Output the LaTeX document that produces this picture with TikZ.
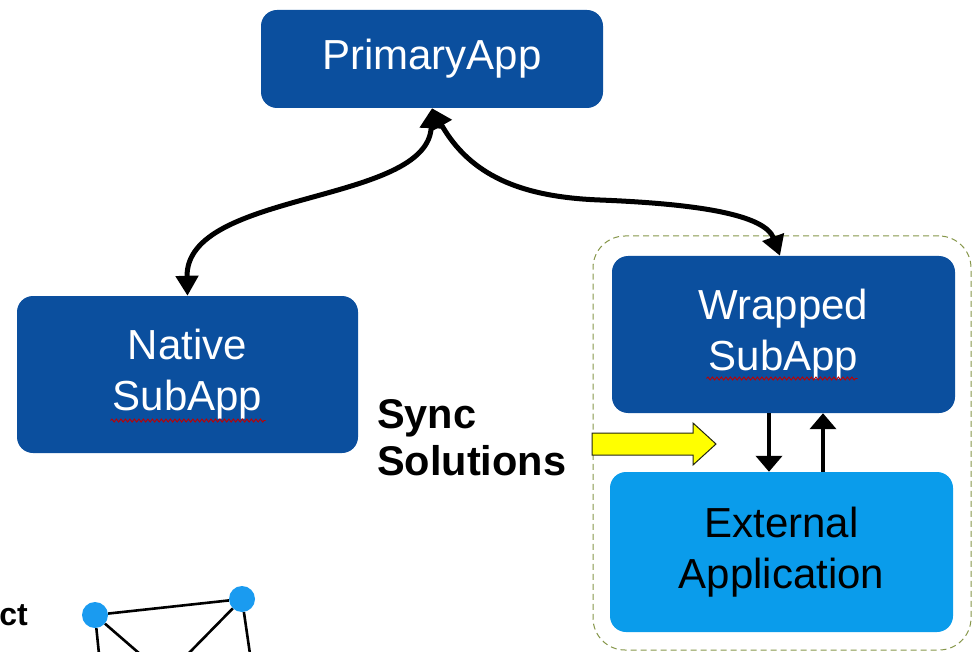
\documentclass[tikz,border=0pt]{standalone}
\usepackage{fontspec}
\setmainfont{Liberation Sans}
\usetikzlibrary{arrows.meta,decorations.pathmorphing}

\definecolor{appblue}{HTML}{0B4F9E}
\definecolor{extblue}{HTML}{0A9CEB}
\definecolor{olivedash}{HTML}{86964A}
\definecolor{syncyellow}{HTML}{FFFF00}
\definecolor{graphdot}{HTML}{1A9BF0}

\tikzset{
  appbox/.style={draw=none, fill=appblue, rounded corners=16pt, text=white,
    align=center, inner sep=0pt,
    font=\fontsize{42}{51}\selectfont},
  extbox/.style={appbox, fill=extblue, text=black},
  bigarrow/.style={line width=5pt,
    {Triangle[length=20pt,width=22pt]}-{Triangle[length=20pt,width=22pt]}},
  smallarrow/.style={line width=4.5pt, -{Triangle[length=16pt,width=26pt]}},
  spellmark/.style={red!75!black, line width=0.9pt,
    decorate, decoration={snake, segment length=4.5pt, amplitude=1.5pt}},
  container/.style={draw=olivedash, line width=1pt, dash pattern=on 6pt off 4pt,
    rounded corners=32pt, inner sep=0pt},
  dot/.style={circle, fill=graphdot, inner sep=0pt, minimum size=26pt},
  edge/.style={line width=2.6pt, black}
}

\begin{document}
\begin{tikzpicture}[x=1pt, y=-1pt]
  \useasboundingbox (0,0) rectangle (979,652);

  % wrapper around the wrapped sub-application
  \node[container, minimum width=378pt, minimum height=414pt] (wrap) at (782,443) {};

  % application boxes
  \node[appbox, minimum width=342pt, minimum height=98pt] (primary) at (432,59) {PrimaryApp};
  \node[appbox, minimum width=341pt, minimum height=157pt] (native) at (187.5,374.5) {Native\\SubApp};
  \node[appbox, minimum width=343pt, minimum height=157pt] (wrapped) at (783.5,334.5) {Wrapped\\SubApp};
  \node[extbox, minimum width=343pt, minimum height=160pt] (ext) at (781.5,552) {External\\Application};

  % spell-check marks under "SubApp"
  \draw[spellmark] ([shift={(-77,46)}]native.center) -- ([shift={(78,46)}]native.center);
  \draw[spellmark] ([shift={(-77,44)}]wrapped.center) -- ([shift={(74,44)}]wrapped.center);

  % curved two-way links from the primary app
  \coordinate (ptip) at (primary.south);
  \draw[bigarrow] (native.north) .. controls (185,190) and (428,205) .. (ptip);
  \draw[bigarrow] (ptip) .. controls (470,175) and (520,197) .. (600,200)
                       .. controls (700,204) and (765,215) .. ([xshift=-3.5pt]wrapped.north);

  % exchange between wrapped sub-app and external application
  \draw[smallarrow] ([xshift=-14.5pt]wrapped.south) -- ([xshift=-12.5pt]ext.north);
  \draw[smallarrow] ([xshift=41.5pt]ext.north) -- ([xshift=39.5pt]wrapped.south);

  % sync label and yellow arrow
  \node[anchor=base west, font=\bfseries\fontsize{41.5}{47}\selectfont, align=left,
        inner sep=0pt] (sync) at (377,475) {Sync\\Solutions};
  \draw[fill=syncyellow, draw=black!75!olivedash, line width=1pt, line join=miter]
    (592,433) -- (693,433) -- (693,423) -- (716,444) -- (693,465) -- (693,455)
    -- (592,455) -- cycle;

  % partial label at the lower left
  \node[anchor=base east, font=\bfseries\fontsize{32}{38}\selectfont, inner sep=0pt]
    (partial) at (28,625) {ct};

  % small network graph
  \node[dot] (g1) at (95,615) {};
  \node[dot] (g2) at (242,599) {};
  \coordinate (e1) at (99,654);
  \coordinate (e2) at (140,654);
  \coordinate (e3) at (188,654);
  \coordinate (e4) at (250,654);
  \draw[edge] (g1) -- (g2);
  \draw[edge] (g1) -- (e1);
  \draw[edge] (g1) -- (e2);
  \draw[edge] (g2) -- (e3);
  \draw[edge] (g2) -- (e4);
\end{tikzpicture}
\end{document}
